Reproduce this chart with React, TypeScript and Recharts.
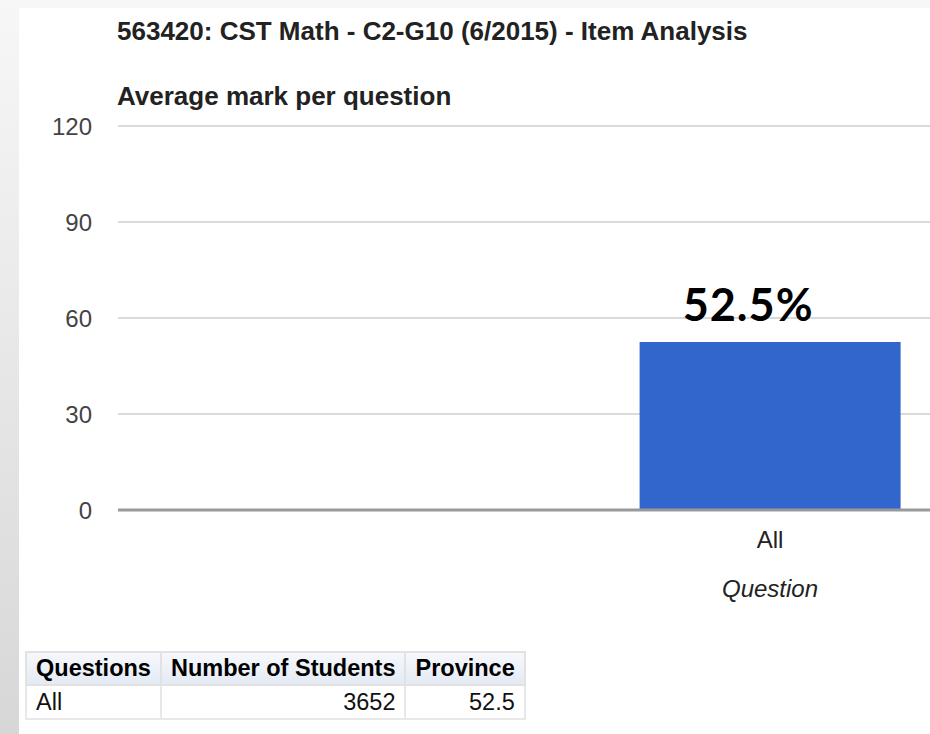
import React from "react";
import { BarChart, Bar, XAxis, YAxis, CartesianGrid, LabelList } from "recharts";

// values
const questions = ["All"];
const averageMarks = [52.5];
const studentCounts = [3652];
const yTicks = [0, 30, 60, 90, 120];

const data = questions.map((q, i) => ({ question: q, mark: averageMarks[i] }));

const FONT = "'Liberation Sans', Arial, sans-serif";

const PercentLabel = (props: any) => {
  const { x, y, width, value } = props;
  return (
    <text
      x={x + width / 2 - 22}
      y={y - 21}
      textAnchor="middle"
      fill="#000"
      style={{ fontFamily: "Lato, sans-serif", fontWeight: 700, fontSize: 45, letterSpacing: 1 }}
    >
      {`${value}%`}
    </text>
  );
};

const thStyle: React.CSSProperties = {
  background: "linear-gradient(#f6f8fc, #e4eaf4)",
  border: "2px solid #e2e2e2",
  padding: "0 9px",
  height: 31,
  fontWeight: 700,
  textAlign: "left",
  whiteSpace: "nowrap",
  color: "#000",
};

const tdStyle: React.CSSProperties = {
  background: "#fff",
  border: "2px solid #e8e8e8",
  padding: "0 9px",
  height: 32,
  whiteSpace: "nowrap",
};

const App = () => {
  return (
    <div
      style={{
        position: "absolute",
        left: 0,
        top: 0,
        width: 930,
        height: 734,
        overflow: "hidden",
        background: "linear-gradient(#f7f7f7, #d7d7d7)",
        fontFamily: FONT,
      }}
    >
      <div style={{ position: "absolute", left: 19, top: 8, right: 0, bottom: 0, background: "#fff" }} />

      <div
        style={{
          position: "absolute",
          left: 117,
          top: 18,
          fontSize: 26,
          lineHeight: "26px",
          fontWeight: 700,
          color: "#222",
          whiteSpace: "nowrap",
        }}
      >
        563420: CST Math - C2-G10 (6/2015) - Item Analysis
      </div>
      <div
        style={{
          position: "absolute",
          left: 117,
          top: 83,
          fontSize: 26,
          lineHeight: "26px",
          fontWeight: 700,
          color: "#222",
          whiteSpace: "nowrap",
        }}
      >
        Average mark per question
      </div>

      <div style={{ position: "absolute", left: 0, top: 0 }}>
        <BarChart
          width={1422}
          height={640}
          data={data}
          margin={{ top: 126, right: 0, bottom: 0, left: 0 }}
          barCategoryGap="40%"
        >
          <CartesianGrid vertical={false} stroke="#dadada" strokeWidth={2} />
          <XAxis
            dataKey="question"
            height={130}
            tickLine={false}
            tickSize={0}
            tickMargin={21}
            axisLine={{ stroke: "#999", strokeWidth: 3 }}
            tick={{ fill: "#222", fontSize: 24, fontFamily: FONT }}
            label={{
              value: "Question",
              position: "insideBottom",
              offset: 43,
              style: { fill: "#222", fontSize: 24, fontStyle: "italic", fontFamily: FONT },
            }}
          />
          <YAxis
            domain={[0, 120]}
            ticks={yTicks}
            width={118}
            axisLine={false}
            tickLine={false}
            tickSize={0}
            tickMargin={26}
            tick={{ fill: "#444", fontSize: 24, fontFamily: FONT }}
          />
          <Bar dataKey="mark" fill="#3366cc" isAnimationActive={false}>
            <LabelList dataKey="mark" content={PercentLabel} />
          </Bar>
        </BarChart>
      </div>

      <table
        style={{
          position: "absolute",
          left: 25,
          top: 651,
          borderCollapse: "collapse",
          border: "2px solid #e4e4e4",
          fontSize: 23.5,
          color: "#111",
          fontFamily: FONT,
        }}
      >
        <thead>
          <tr>
            <th style={thStyle}>Questions</th>
            <th style={thStyle}>Number of Students</th>
            <th style={thStyle}>Province</th>
          </tr>
        </thead>
        <tbody>
          {questions.map((q, i) => (
            <tr key={q}>
              <td style={tdStyle}>{q}</td>
              <td style={{ ...tdStyle, textAlign: "right" }}>{studentCounts[i]}</td>
              <td style={{ ...tdStyle, textAlign: "right" }}>{averageMarks[i]}</td>
            </tr>
          ))}
        </tbody>
      </table>
    </div>
  );
};

export default App;
